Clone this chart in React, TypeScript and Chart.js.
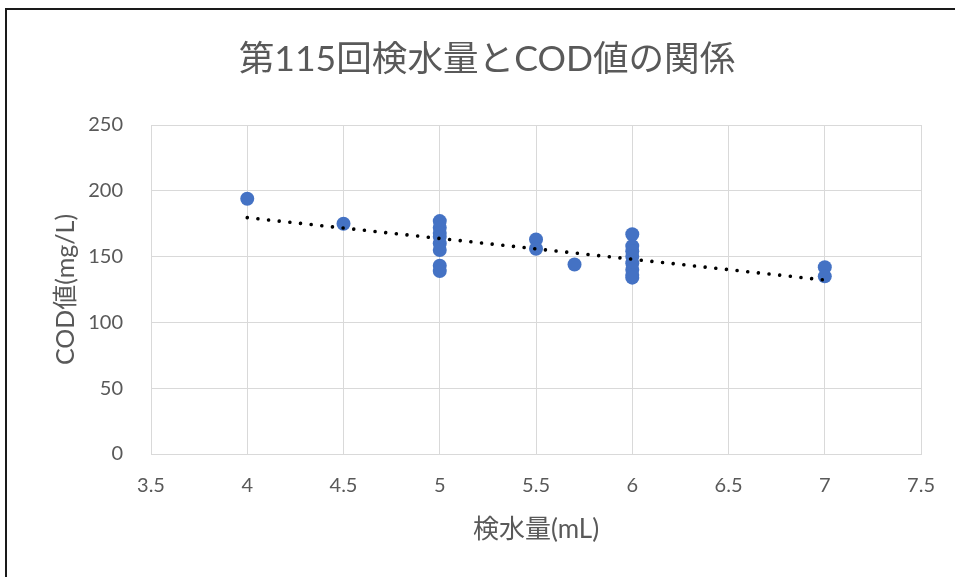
import React, { useEffect, useRef } from "react";
import { Chart, registerables } from "chart.js";

Chart.register(...registerables);

const TITLE = "第115回検水量とCOD値の関係";
const X_TITLE = "検水量(mL)";
const Y_TITLE = "COD値(mg/L)";

// scatter data: sample volume (mL) and COD value (mg/L)
const volumes = [4, 4.5, 5, 5, 5, 5, 5, 5, 5, 5, 5.5, 5.5, 5.7, 6, 6, 6, 6, 6, 6, 6, 6, 7, 7];
const codValues = [194, 175, 177, 172, 168, 165, 160, 155, 143, 139, 163, 156, 144, 167, 158, 154, 150, 145, 140, 136, 134, 142, 135];

// linear trendline end points
const trendX = [4, 7];
const trendY = [179.6, 132.2];

const X_MIN = 3.5;
const X_MAX = 7.5;
const X_STEP = 0.5;
const Y_MIN = 0;
const Y_MAX = 250;
const Y_STEP = 50;

const FONT = "Lato, 'Noto Sans CJK JP', sans-serif";
const TEXT = "#595959";
const GRID = "#d9d9d9";

export default function App() {
  const ref = useRef<HTMLCanvasElement | null>(null);

  useEffect(() => {
    if (!ref.current) return;
    const chart = new Chart(ref.current, {
      type: "scatter",
      data: {
        datasets: [
          {
            type: "line",
            label: "trend",
            data: trendX.map((x, i) => ({ x, y: trendY[i] })),
            borderColor: "#000",
            borderWidth: 3.6,
            borderCapStyle: "round",
            borderDash: [0.01, 10.7],
            pointRadius: 0,
            fill: false,
            order: 0,
          } as any,
          {
            label: "COD",
            data: volumes.map((x, i) => ({ x, y: codValues[i] })),
            backgroundColor: "#4472C4",
            borderColor: "#4472C4",
            pointRadius: 7,
            pointBorderWidth: 0,
            order: 1,
          },
        ],
      },
      options: {
        responsive: false,
        animation: false,
        layout: { padding: { left: 52, right: 33, top: 0, bottom: 0 } },
        plugins: {
          legend: { display: false },
          tooltip: { enabled: false },
          title: {
            display: true,
            text: TITLE,
            color: TEXT,
            font: { family: FONT, size: 35.6, weight: "normal", lineHeight: 1.2 },
            padding: { top: 38.6, bottom: 43.7 },
          },
        },
        scales: {
          x: {
            type: "linear",
            min: X_MIN,
            max: X_MAX,
            ticks: {
              stepSize: X_STEP,
              color: TEXT,
              font: { family: FONT, size: 20 },
              padding: 20,
              callback: (v: any) => String(Number(v)),
            },
            grid: { color: GRID, drawTicks: false, lineWidth: 1 },
            border: { color: GRID },
            title: {
              display: true,
              text: X_TITLE,
              color: TEXT,
              font: { family: FONT, size: 26, lineHeight: 1 },
              padding: { top: 0, bottom: 34 },
            },
            afterFit: (s: any) => {
              s.height = 123;
            },
          },
          y: {
            type: "linear",
            min: Y_MIN,
            max: Y_MAX,
            ticks: {
              stepSize: Y_STEP,
              color: TEXT,
              font: { family: FONT, size: 20 },
              padding: 28,
            },
            grid: { color: GRID, drawTicks: false, lineWidth: 1 },
            border: { color: GRID },
            title: {
              display: true,
              text: Y_TITLE,
              color: TEXT,
              font: { family: FONT, size: 25, lineHeight: 1 },
              padding: { top: 1.5, bottom: 0 },
            },
            afterFit: (s: any) => {
              s.width = 99;
            },
          },
        },
      },
    });
    return () => chart.destroy();
  }, []);

  return (
    <div style={{ position: "fixed", left: 0, top: 0, width: 955, height: 577, overflow: "hidden", background: "#fff" }}>
      <div
        style={{
          position: "absolute",
          left: 5,
          top: 8,
          width: 1200,
          height: 1200,
          border: "2px solid #1a1a1a",
          boxSizing: "border-box",
        }}
      />
      <canvas ref={ref} width={955} height={577} style={{ position: "absolute", left: 0, top: 0, display: "block" }} />
    </div>
  );
}
